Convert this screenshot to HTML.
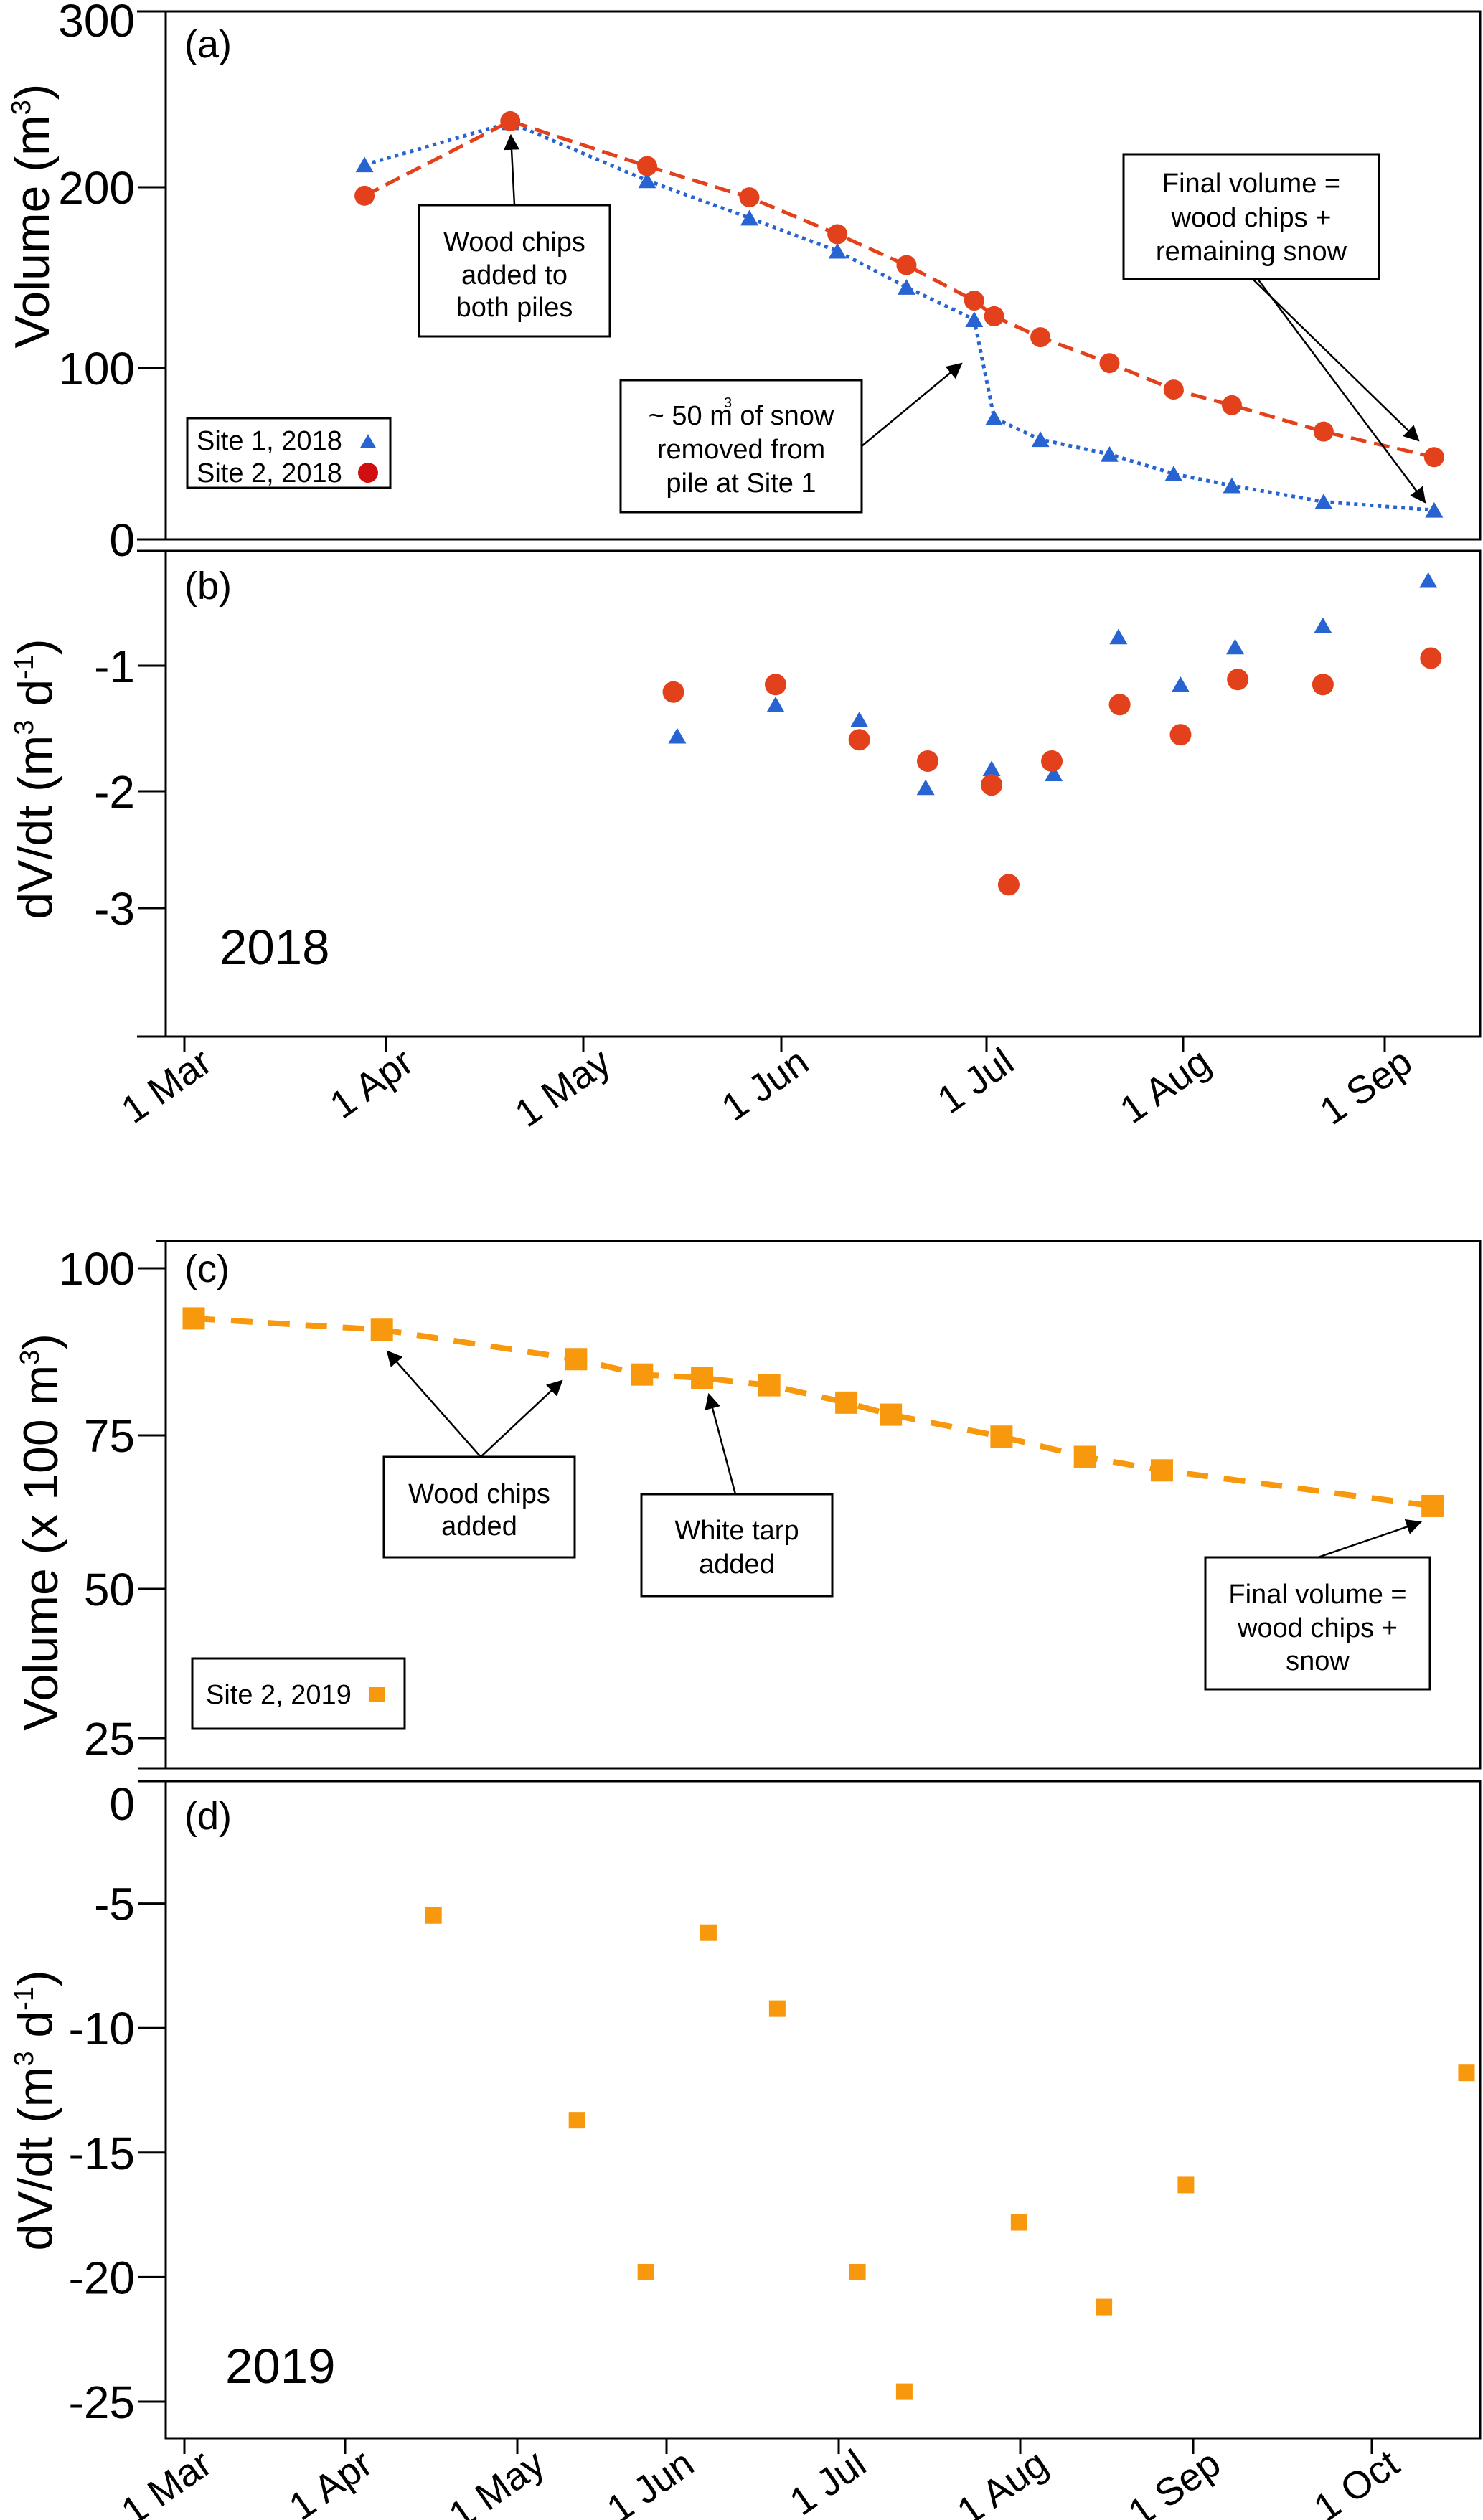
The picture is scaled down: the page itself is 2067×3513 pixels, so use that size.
<!DOCTYPE html>
<html><head><meta charset="utf-8"><style>
html,body{margin:0;padding:0;background:#fff;}
svg{display:block;font-family:"Liberation Sans",Arial,sans-serif;}
</style></head><body>
<svg id="chart" xmlns="http://www.w3.org/2000/svg" width="2067" height="3513" viewBox="0 0 2067 3513"></svg>
<script>
// ---- data (day of year, values) ----
const monthLabels2018 = ["1 Mar","1 Apr","1 May","1 Jun","1 Jul","1 Aug","1 Sep"];
const monthDays2018 = [60,91,121,152,182,213,244];
const monthLabels2019 = ["1 Mar","1 Apr","1 May","1 Jun","1 Jul","1 Aug","1 Sep","1 Oct"];
const monthDays2019 = [60,91,121,152,182,213,244,274];

const aTicks = [0,100,200,300];
const bTicks = [-1,-2,-3];
const cTicks = [25,50,75,100];
const dTicks = [0,-5,-10,-15,-20,-25];

const site1Days = [87.7,109.9,131,147,160.2,170.3,180.2,183.2,190.5,201.4,211.5,220.5,234.6,251.6];
const site1Vol = [212.8,236.8,203.8,183,164.7,144.7,126.8,70.9,58.3,49.7,38.3,31.4,22,17.1];
const site2Days = [87.7,109.9,131,147,160.2,170.3,180.2,183.2,190.5,201.4,211.5,220.5,234.6,251.6];
const site2Vol = [195.3,237.6,212,194.4,174,156.9,137.3,128.6,117,102.7,87.4,78.3,62.9,48];

const site1RateDays = [135.7,151.1,163.4,173.1,182.8,192.6,202.8,212.6,221,234.5,250.7];
const site1Rate = [-1.56,-1.31,-1.43,-1.97,-1.82,-1.86,-0.77,-1.15,-0.85,-0.68,-0.32];
const site2RateDays = [135.1,151.1,163.4,173.4,182.8,185.5,192.3,203,212.6,221.4,234.5,251.1];
const site2Rate = [-1.21,-1.15,-1.59,-1.76,-1.95,-2.80,-1.76,-1.31,-1.55,-1.11,-1.15,-0.94];

const s2019Days = [61.8,97.4,133.2,146.9,158.2,169.9,183.3,190.9,209.8,224.6,238.4,284.2];
const s2019Vol = [92.5,90.8,86.4,84.1,83.6,82.5,79.9,78.1,74.8,71.5,69.3,63.5];
const s2019RateDays = [106.4,133.4,147.7,159.3,171.3,185.2,193.2,212.8,228,242.7,289.9];
const s2019Rate = [-5.48,-13.7,-19.8,-6.17,-9.22,-19.8,-24.6,-17.8,-21.2,-16.3,-11.8];

// ---- scales (piecewise linear through tick positions) ----
function pw(ds, ps){ return function(v){
  let n=ds.length;
  let i=0;
  if (ds[0] < ds[n-1]) { while(i<n-2 && v>ds[i+1]) i++; }
  else { while(i<n-2 && v<ds[i+1]) i++; }
  return ps[i] + (v-ds[i])*(ps[i+1]-ps[i])/(ds[i+1]-ds[i]);
};}
const x18 = pw(monthDays2018,[257,538,813,1089,1375,1649,1930]);
const x19 = pw(monthDays2019,[257,481,721,929,1169,1422,1663,1912]);
const yA = pw([0,100,200,300],[752,513,261,16]);
const yB = pw([-1,-2,-3],[928,1103,1266]);
const yC = pw([25,50,75,100],[2423,2215,2001,1768]);
const yD = pw([0,-25],[2480,3348]);

const svg = document.getElementById('chart');
const NS = "http://www.w3.org/2000/svg";
function mk(tag, attrs, parent){
  const e=document.createElementNS(NS,tag);
  for(const k in attrs) e.setAttribute(k,attrs[k]);
  (parent||svg).appendChild(e); return e;
}
function txt(s, attrs, parent){ const e=mk('text',attrs,parent); e.textContent=s; return e; }

const BLUE="#2863d2", RED="#e2411b", ORANGE="#f7980d";

const defs = mk('defs',{});
const mrk = mk('marker',{id:'arr',viewBox:'0 0 10 10',refX:'9',refY:'5',markerWidth:'22',markerHeight:'22',orient:'auto',markerUnits:'userSpaceOnUse'},defs);
mk('path',{d:'M0,0 L10,5 L0,10 z',fill:'#000'},mrk);

function frame(name, top, bottom, extTop, extBottom){
  const g = mk('g',{});
  
  
  mk('rect',{x:231,y:top,width:1832,height:bottom-top,fill:'none',stroke:'#000','stroke-width':3},g);
  if(extTop) mk('line',{x1:extTop,y1:top,x2:231,y2:top,stroke:'#000','stroke-width':3},g);
  if(extBottom) mk('line',{x1:extBottom,y1:bottom,x2:231,y2:bottom,stroke:'#000','stroke-width':3},g);
  return g;
}
function yAxis(name, ticks, scale, topFix){
  const g = mk('g',{});
  
  
  ticks.forEach(t=>{
    const y=scale(t);
    mk('line',{x1:193,y1:y,x2:231,y2:y,stroke:'#000','stroke-width':3},g);
    let by = y+23;
    if (topFix && by < 51) by = 51;
    const e=txt(String(t),{x:188,y:by,'font-size':64,'text-anchor':'end'},g);
    
    
  });
}
function xAxis(name, days, labels, scale, bottom){
  const g = mk('g',{});
  
  
  days.forEach((d,i)=>{
    const x=scale(d);
    mk('line',{x1:x,y1:bottom,x2:x,y2:bottom+22,stroke:'#000','stroke-width':3},g);
    const e=txt(labels[i],{x:x+42,y:bottom+44,'font-size':54,'text-anchor':'end',transform:`rotate(-35 ${x+42} ${bottom+44})`},g);
    
    
  });
}
function tri(g,cx,cy,s,fill){
  return mk('polygon',{points:`${cx-s/2},${cy+s*0.42} ${cx+s/2},${cy+s*0.42} ${cx},${cy-s*0.45}`,fill:fill},g);
}
function line(g,xs,ys,stroke,w,dash){
  const pts = xs.map((x,i)=>x+','+ys[i]).join(' ');
  return mk('polyline',{points:pts,fill:'none',stroke:stroke,'stroke-width':w,'stroke-dasharray':dash},g);
}
function box(name,x,y,w,h,lines,bases){
  const g = mk('g',{});
  
  
  mk('rect',{x:x,y:y,width:w,height:h,fill:'#fff',stroke:'#000','stroke-width':3},g);
  lines.forEach((l,i)=>txt(l,{x:x+w/2,y:bases[i],'font-size':38,'text-anchor':'middle'},g));
  return g;
}
function arrow(name,x1,y1,x2,y2){
  const l=mk('line',{x1:x1,y1:y1,x2:x2,y2:y2,stroke:'#000','stroke-width':2.5,'marker-end':'url(#arr)'});
  
  
}

// ===== Panel (a) =====
frame('panel-a-frame',16,752,191,191);
yAxis('panel-a-y-axis',aTicks,yA,true);
const tA=txt('Volume (m',{x:0,y:0,'font-size':68,'text-anchor':'middle',transform:'translate(68 301) rotate(-90)'});
const supA=mk('tspan',{dy:-26,'font-size':38},tA); supA.textContent='3';
const supA2=mk('tspan',{dy:26},tA); supA2.textContent=')';


let e=txt('(a)',{x:257,y:80,'font-size':54});



const gA = mk('g',{});


line(gA, site1Days.map(x18), site1Vol.map(yA), BLUE, 5, '5 6');
line(gA, site2Days.map(x18), site2Vol.map(yA), RED, 5, '22 11');
site1Days.forEach((d,i)=>{
  const m=tri(gA,x18(d),yA(site1Vol[i]),25,BLUE);
  
  
});
site2Days.forEach((d,i)=>{
  const m=mk('circle',{cx:x18(d),cy:yA(site2Vol[i]),r:14,fill:RED},gA);
  
  
});
const lgA = mk('g',{});


mk('rect',{x:261,y:583,width:283,height:97,fill:'#fff',stroke:'#000','stroke-width':3},lgA);
txt('Site 1, 2018',{x:274,y:627,'font-size':38},lgA);
txt('Site 2, 2018',{x:274,y:672,'font-size':38},lgA);
tri(lgA,513,615,22,BLUE);
mk('circle',{cx:513,cy:659,r:14,fill:'#d01010'},lgA);
box('annotation-wood-chips-2018',584,286,266,183,['Wood chips','added to','both piles'],[350,396,441]);
arrow('arrow-wood-chips-2018',717,286,712,189);
const b2=box('annotation-snow-removed',865,530,336,184,['~ 50 m  of snow','removed from','pile at Site 1'],[592,639,686]);
txt('3',{x:1009,y:568,'font-size':20},b2);
arrow('arrow-snow-removed',1201,622,1340,507);
box('annotation-final-volume-2018',1566,215,356,174,['Final volume =','wood chips +','remaining snow'],[268,316,363]);
arrow('arrow-final-site2',1746,389,1977,614);
arrow('arrow-final-site1',1753,389,1986,700);

// ===== Panel (b) =====
frame('panel-b-frame',768,1445,191,191);
yAxis('panel-b-y-axis',bTicks,yB);
const tB=txt('dV/dt (m',{x:0,y:0,'font-size':68,'text-anchor':'middle',transform:'translate(72 1086) rotate(-90)'});
let sp=mk('tspan',{dy:-26,'font-size':38},tB); sp.textContent='3';
sp=mk('tspan',{dy:26},tB); sp.textContent=' d';
sp=mk('tspan',{dy:-26,'font-size':38},tB); sp.textContent='-1';
sp=mk('tspan',{dy:26},tB); sp.textContent=')';


e=txt('(b)',{x:257,y:835,'font-size':54});


e=txt('2018',{x:306,y:1344,'font-size':69});


xAxis('panel-b-x-axis',monthDays2018,monthLabels2018,x18,1445);
const gB = mk('g',{});


site1RateDays.forEach((d,i)=>{
  const m=tri(gB,x18(d),yB(site1Rate[i]),25,BLUE);
  
  
});
site2RateDays.forEach((d,i)=>{
  const m=mk('circle',{cx:x18(d),cy:yB(site2Rate[i]),r:15,fill:RED},gB);
  
  
});

// ===== Panel (c) =====
frame('panel-c-frame',1730,2465,217,193);
yAxis('panel-c-y-axis',cTicks,yC);
const tC=txt('Volume (x 100 m',{x:0,y:0,'font-size':68,'text-anchor':'middle',transform:'translate(80 2136) rotate(-90)'});
sp=mk('tspan',{dy:-26,'font-size':38},tC); sp.textContent='3';
sp=mk('tspan',{dy:26},tC); sp.textContent=')';


e=txt('(c)',{x:257,y:1787,'font-size':54});


const gC = mk('g',{});


line(gC, s2019Days.map(x19), s2019Vol.map(yC), ORANGE, 8, '30 22');
s2019Days.forEach((d,i)=>{
  const m=mk('rect',{x:x19(d)-15.5,y:yC(s2019Vol[i])-15.5,width:31,height:31,fill:ORANGE},gC);
  
  
});
const lgC = mk('g',{});


mk('rect',{x:268,y:2312,width:296,height:98,fill:'#fff',stroke:'#000','stroke-width':3},lgC);
txt('Site 2, 2019',{x:287,y:2375,'font-size':38},lgC);
mk('rect',{x:514,y:2352,width:22,height:21,fill:ORANGE},lgC);
box('annotation-wood-chips-2019',535,2031,266,140,['Wood chips','added'],[2095,2140]);
arrow('arrow-wood-chips-1',670,2031,540,1884);
arrow('arrow-wood-chips-2',670,2031,783,1925);
box('annotation-white-tarp',894,2083,266,142,['White tarp','added'],[2146,2193]);
arrow('arrow-white-tarp',1025,2083,988,1944);
box('annotation-final-volume-2019',1680,2171,313,184,['Final volume =','wood chips +','snow'],[2235,2282,2328]);
arrow('arrow-final-2019',1837,2171,1980,2122);

// ===== Panel (d) =====
frame('panel-d-frame',2483,3399,193,null);
yAxis('panel-d-y-axis',dTicks.slice(1),yD);
e=txt('0',{x:188,y:2537,'font-size':64,'text-anchor':'end'});


const tD=txt('dV/dt (m',{x:0,y:0,'font-size':68,'text-anchor':'middle',transform:'translate(72 2942) rotate(-90)'});
sp=mk('tspan',{dy:-26,'font-size':38},tD); sp.textContent='3';
sp=mk('tspan',{dy:26},tD); sp.textContent=' d';
sp=mk('tspan',{dy:-26,'font-size':38},tD); sp.textContent='-1';
sp=mk('tspan',{dy:26},tD); sp.textContent=')';


e=txt('(d)',{x:257,y:2550,'font-size':54});


e=txt('2019',{x:314,y:3322,'font-size':69});


xAxis('panel-d-x-axis',monthDays2019,monthLabels2019,x19,3399);
const gD = mk('g',{});


s2019RateDays.forEach((d,i)=>{
  const m=mk('rect',{x:x19(d)-11.5,y:yD(s2019Rate[i])-11.5,width:23,height:23,fill:ORANGE},gD);
  
  
});
</script>
</body></html>
